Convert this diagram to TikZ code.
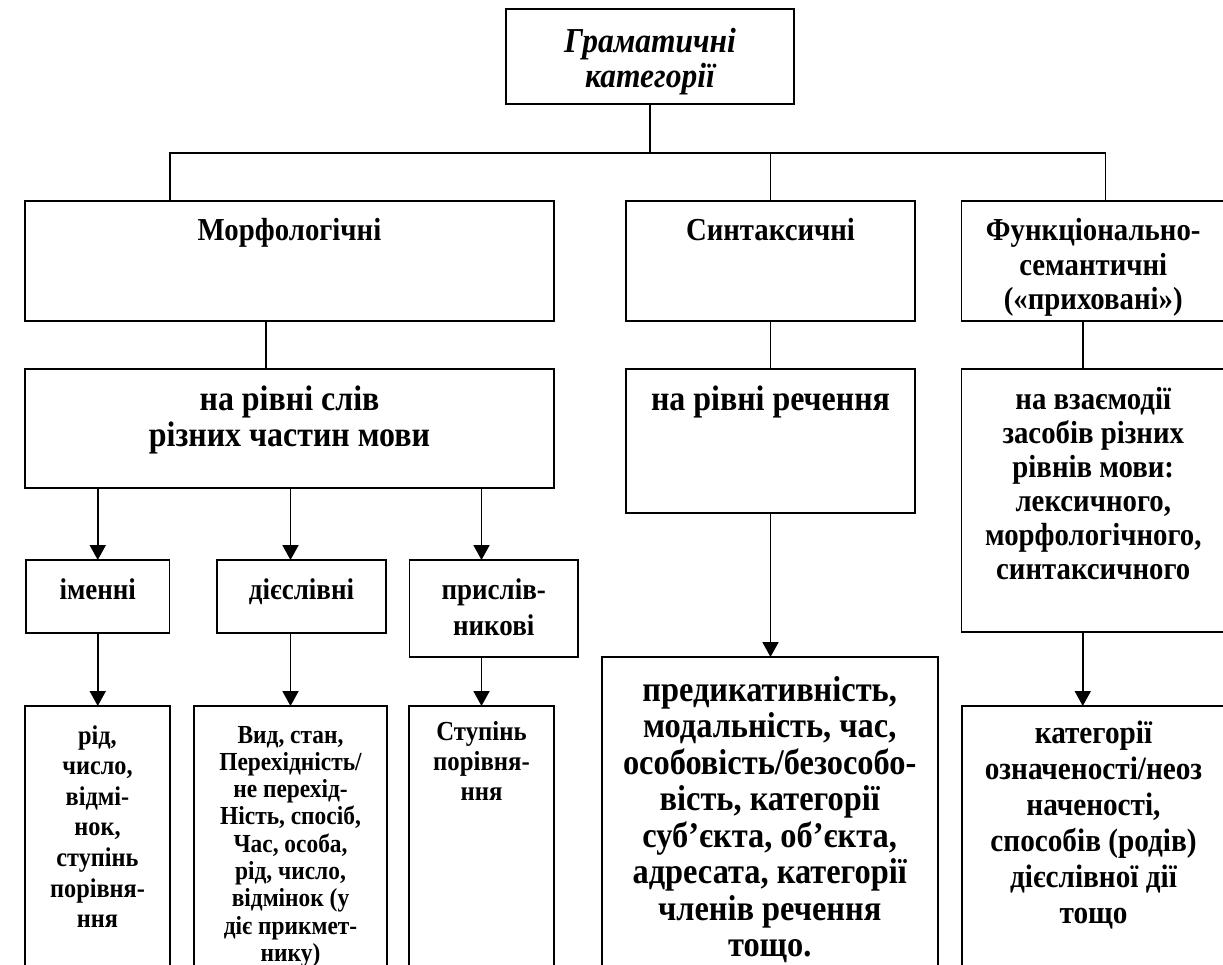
\documentclass[tikz,border=0pt]{standalone}
\usepackage{fontspec}
\setmainfont{Liberation Serif}[FakeStretch=0.9]
\usetikzlibrary{arrows.meta}
\newcommand{\bt}[4]{\parbox[c][#2][t]{#1}{\centering\rule{0pt}{#3}#4\par}}
\tikzset{
  bx/.style={draw, line width=1.9pt, inner sep=0pt, outer sep=0pt, anchor=north west},
  ln/.style={line width=1.9pt},
  arr/.style={line width=1.9pt, -{Triangle[width=16pt,length=15pt]}},
  ftop/.style={font=\bfseries\itshape\fontsize{35}{35}\selectfont},
  ftwo/.style={font=\bfseries\fontsize{32}{34.5}\selectfont},
  fthree/.style={font=\bfseries\fontsize{35.5}{36.5}\selectfont},
  fvz/.style={font=\bfseries\fontsize{32}{34}\selectfont},
  ffour/.style={font=\bfseries\fontsize{30}{36}\selectfont},
  frid/.style={font=\bfseries\fontsize{27}{30.6}\selectfont},
  fvyd/.style={font=\bfseries\fontsize{26}{27.3}\selectfont},
  fstup/.style={font=\bfseries\fontsize{27.5}{30}\selectfont},
  fbig/.style={font=\bfseries\fontsize{36}{36.5}\selectfont},
  fkat/.style={font=\bfseries\fontsize{32.5}{36}\selectfont}
}
\begin{document}
\begin{tikzpicture}[x=1pt,y=-1pt]
\useasboundingbox (0,0) rectangle (1223,965);
\clip (0,0) rectangle (1223,965);
% boxes
\node[bx,ftop] (top) at (506,9) {\bt{288pt}{95pt}{44pt}{Граматичні\\категорії}};
\node[bx,ftwo] (morf) at (25,201) {\bt{529pt}{120pt}{40pt}{Морфологічні}};
\node[bx,ftwo] (sint) at (626,201) {\bt{289pt}{120pt}{40pt}{Синтаксичні}};
\node[bx,ftwo] (func) at (961.5,201) {\bt{263.5pt}{120pt}{40pt}{Функціонально-\\семантичні\\(«приховані»)}};
\node[bx,fthree] (slova) at (25,369) {\bt{529pt}{119pt}{41pt}{на рівні слів\\різних частин мови}};
\node[bx,fthree] (rech) at (626,369) {\bt{289pt}{144pt}{41pt}{на рівні речення}};
\node[bx,fvz] (vzaem) at (961.5,369) {\bt{263.5pt}{263pt}{40pt}{на взаємодії\\засобів різних\\рівнів мови:\\лексичного,\\морфологічного,\\синтаксичного}};
\node[bx,ffour] (imen) at (26,560) {\bt{143.5pt}{73pt}{39pt}{іменні}};
\node[bx,ffour] (diesl) at (217,560) {\bt{169pt}{73pt}{39pt}{дієслівні}};
\node[bx,ffour] (prysl) at (409.5,560) {\bt{168.5pt}{97pt}{39pt}{прислів-\\никові}};
\node[bx,frid] (rid) at (25,706) {\bt{145pt}{290pt}{38pt}{рід,\\число,\\відмі-\\нок,\\ступінь\\порівня-\\ння}};
\node[bx,fvyd] (vyd) at (194,706) {\bt{193pt}{290pt}{37pt}{Вид, стан,\\Перехідність/\\не перехід-\\Ність, спосіб,\\Час, особа,\\рід, число,\\відмінок (у\\діє прикмет-\\нику)}};
\node[bx,fstup] (stup) at (409,706) {\bt{145pt}{290pt}{34pt}{Ступінь\\порівня-\\ння}};
\node[bx,fbig] (big) at (601.7,657) {\bt{336pt}{340pt}{44pt}{предикативність,\\модальність, час,\\особовість/безособо-\\вість, категорії\\суб’єкта, об’єкта,\\адресата, категорії\\членів речення\\тощо.}};
\node[bx,fkat] (kat) at (962,706) {\bt{263pt}{290pt}{37pt}{категорії\\означеності/неоз\\наченості,\\способів (родів)\\дієслівної дії\\тощо}};
% connectors
\coordinate (busL) at (170,153);
\coordinate (busR) at (1105.5,153);
\draw[ln] (top.south) -- (top.south |- busL);
\draw[ln] (busL |- morf.north) -- (busL) -- (busR) -- (busR |- func.north);
\draw[ln] (sint.north) -- (sint.north |- busL);
\draw[ln] ([xshift=-23.8pt]morf.south) -- ([xshift=-23.8pt]slova.north);
\draw[ln] (sint.south) -- (rech.north);
\draw[ln] ([xshift=-10.5pt]func.south) -- ([xshift=-10.5pt]vzaem.north);
\draw[arr] (slova.south -| imen.north) -- (imen.north);
\draw[arr] (slova.south -| vyd.north) -- (diesl.north -| vyd.north);
\draw[arr] (slova.south -| stup.north) -- (prysl.north -| stup.north);
\draw[arr] (imen.south) -- (rid.north -| imen.south);
\draw[arr] (diesl.south -| vyd.north) -- (vyd.north);
\draw[arr] (prysl.south -| stup.north) -- (stup.north);
\draw[arr] (rech.south) -- (rech.south |- big.north);
\draw[arr] ([xshift=-10.5pt]vzaem.south) -- ([xshift=-10.5pt]vzaem.south |- kat.north);
\end{tikzpicture}
\end{document}
